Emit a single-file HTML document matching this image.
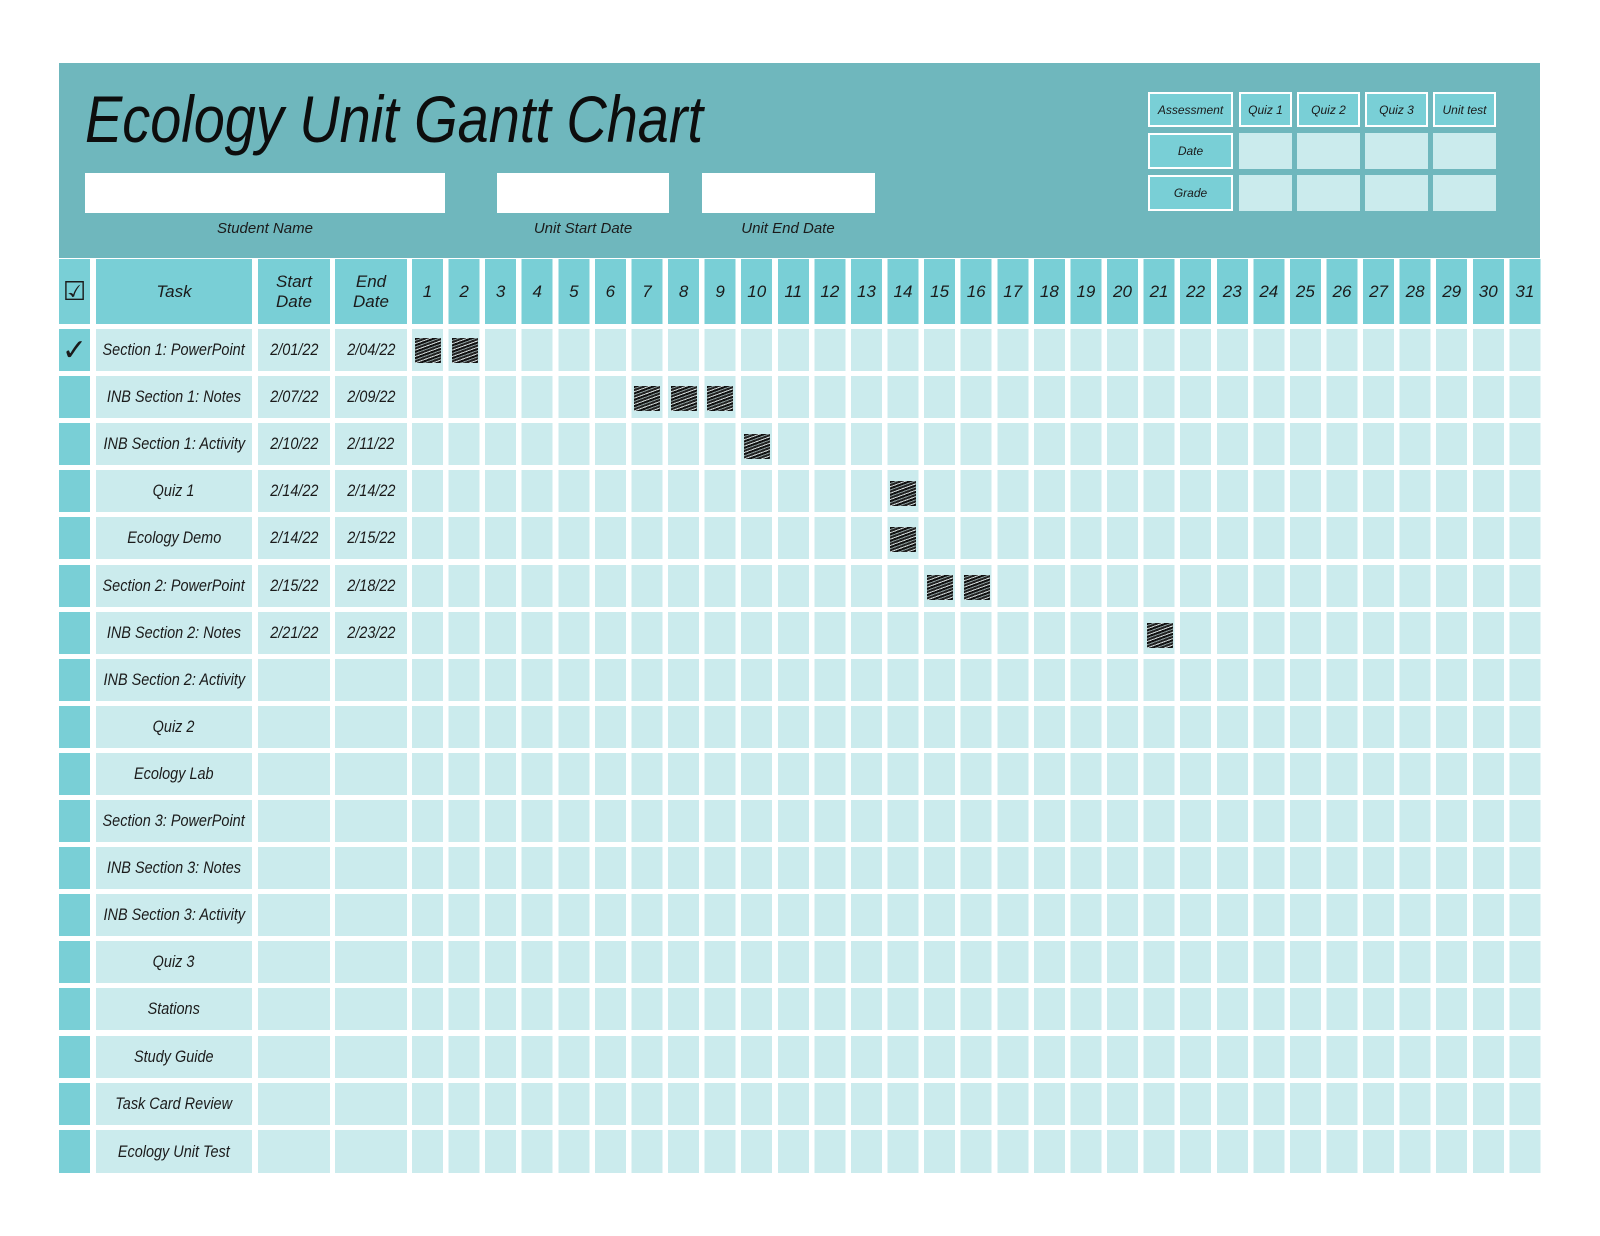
<!DOCTYPE html>
<html><head><meta charset="utf-8"><style>
*{margin:0;padding:0;box-sizing:border-box}
body{width:1600px;height:1236px;background:#fff;position:relative;overflow:hidden;font-family:"Liberation Sans",sans-serif;color:#1b1b1b}
.a{position:absolute}
.ban{left:59px;top:63px;width:1481px;height:195px;background:#6fb7bd}
.wb{background:#fff;height:40px;top:173px}
.lbl{top:220px;font-size:15px;text-align:center;font-style:italic}
.hd{background:#79cfd6}
.lt{background:#cbebed}
.c{display:flex;align-items:center;justify-content:center;text-align:center}
.days{left:412px;width:1134px;display:flex}
.days div{width:36.58px;padding-right:5.58px;display:flex;align-items:center;justify-content:center;font-size:17px;font-style:italic}
.hg{background:repeating-linear-gradient(to right,#79cfd6 0 31px,#fff 31px 36.58px)}
.bg{background:repeating-linear-gradient(to right,#cbebed 0 31px,#fff 31px 36.58px)}
.t{font-size:17px;font-style:italic;white-space:nowrap}
.t span{display:inline-block;transform:scaleX(.85);white-space:nowrap}
.h{width:26px;height:25px;background:repeating-linear-gradient(160deg,#111 0 2px,#8a9a9b 2px 3px,#222 3px 5px,#cfd8d8 5px 6px);}
.at{border:2px solid #fff;background:#79cfd6;font-size:12px;font-style:italic}
.al{background:#cbebed}
</style></head><body>
<div class="a ban"></div>
<svg class="a" style="left:0;top:0" width="900" height="180"><text x="85" y="142" textLength="618" lengthAdjust="spacingAndGlyphs" font-family="Liberation Sans" font-style="italic" font-size="66" fill="#0d0d0d">Ecology Unit Gantt Chart</text></svg>
<div class="a wb" style="left:85px;width:360px"></div>
<div class="a wb" style="left:497px;width:172px"></div>
<div class="a wb" style="left:702px;width:173px"></div>
<div class="a lbl" style="left:165px;width:200px">Student Name</div>
<div class="a lbl" style="left:483px;width:200px">Unit Start Date</div>
<div class="a lbl" style="left:688px;width:200px">Unit End Date</div>

<div class="a c at" style="left:1148px;top:92px;width:85px;height:35px">Assessment</div>
<div class="a c at" style="left:1239px;top:92px;width:53px;height:35px">Quiz 1</div>
<div class="a c at" style="left:1297px;top:92px;width:63px;height:35px">Quiz 2</div>
<div class="a c at" style="left:1365px;top:92px;width:63px;height:35px">Quiz 3</div>
<div class="a c at" style="left:1433px;top:92px;width:63px;height:35px">Unit test</div>
<div class="a c at" style="left:1148px;top:133px;width:85px;height:36px">Date</div>
<div class="a al" style="left:1239px;top:133px;width:53px;height:36px"></div>
<div class="a al" style="left:1297px;top:133px;width:63px;height:36px"></div>
<div class="a al" style="left:1365px;top:133px;width:63px;height:36px"></div>
<div class="a al" style="left:1433px;top:133px;width:63px;height:36px"></div>
<div class="a c at" style="left:1148px;top:175px;width:85px;height:36px">Grade</div>
<div class="a al" style="left:1239px;top:175px;width:53px;height:36px"></div>
<div class="a al" style="left:1297px;top:175px;width:63px;height:36px"></div>
<div class="a al" style="left:1365px;top:175px;width:63px;height:36px"></div>
<div class="a al" style="left:1433px;top:175px;width:63px;height:36px"></div>

<!-- header row -->
<div class="a hd c" style="left:59px;top:259px;width:31px;height:65px;font-size:26px">☑</div>
<div class="a hd c t" style="left:96px;top:259px;width:156px;height:65px">Task</div>
<div class="a hd c t" style="left:258px;top:259px;width:72px;height:65px;white-space:normal">Start<br>Date</div>
<div class="a hd c t" style="left:335px;top:259px;width:72px;height:65px;white-space:normal">End<br>Date</div>
<div class="a days hg" style="top:259px;height:65px"><div>1</div><div>2</div><div>3</div><div>4</div><div>5</div><div>6</div><div>7</div><div>8</div><div>9</div><div>10</div><div>11</div><div>12</div><div>13</div><div>14</div><div>15</div><div>16</div><div>17</div><div>18</div><div>19</div><div>20</div><div>21</div><div>22</div><div>23</div><div>24</div><div>25</div><div>26</div><div>27</div><div>28</div><div>29</div><div>30</div><div>31</div></div>

<!-- rows -->
<div class="a hd c" style="left:59px;top:329px;width:31px;height:42px;font-size:30px">✓</div><div class="a lt c t" style="left:96px;top:329px;width:156px;height:42px"><span>Section 1: PowerPoint</span></div><div class="a lt c t" style="left:258px;top:329px;width:72px;height:42px"><span>2/01/22</span></div><div class="a lt c t" style="left:335px;top:329px;width:72px;height:42px"><span>2/04/22</span></div><div class="a days bg" style="top:329px;height:42px"></div>
<div class="a hd" style="left:59px;top:376px;width:31px;height:42px"></div><div class="a lt c t" style="left:96px;top:376px;width:156px;height:42px"><span>INB Section 1: Notes</span></div><div class="a lt c t" style="left:258px;top:376px;width:72px;height:42px"><span>2/07/22</span></div><div class="a lt c t" style="left:335px;top:376px;width:72px;height:42px"><span>2/09/22</span></div><div class="a days bg" style="top:376px;height:42px"></div>
<div class="a hd" style="left:59px;top:423px;width:31px;height:42px"></div><div class="a lt c t" style="left:96px;top:423px;width:156px;height:42px"><span>INB Section 1: Activity</span></div><div class="a lt c t" style="left:258px;top:423px;width:72px;height:42px"><span>2/10/22</span></div><div class="a lt c t" style="left:335px;top:423px;width:72px;height:42px"><span>2/11/22</span></div><div class="a days bg" style="top:423px;height:42px"></div>
<div class="a hd" style="left:59px;top:470px;width:31px;height:42px"></div><div class="a lt c t" style="left:96px;top:470px;width:156px;height:42px"><span>Quiz 1</span></div><div class="a lt c t" style="left:258px;top:470px;width:72px;height:42px"><span>2/14/22</span></div><div class="a lt c t" style="left:335px;top:470px;width:72px;height:42px"><span>2/14/22</span></div><div class="a days bg" style="top:470px;height:42px"></div>
<div class="a hd" style="left:59px;top:517px;width:31px;height:42px"></div><div class="a lt c t" style="left:96px;top:517px;width:156px;height:42px"><span>Ecology Demo</span></div><div class="a lt c t" style="left:258px;top:517px;width:72px;height:42px"><span>2/14/22</span></div><div class="a lt c t" style="left:335px;top:517px;width:72px;height:42px"><span>2/15/22</span></div><div class="a days bg" style="top:517px;height:42px"></div>
<div class="a hd" style="left:59px;top:565px;width:31px;height:42px"></div><div class="a lt c t" style="left:96px;top:565px;width:156px;height:42px"><span>Section 2: PowerPoint</span></div><div class="a lt c t" style="left:258px;top:565px;width:72px;height:42px"><span>2/15/22</span></div><div class="a lt c t" style="left:335px;top:565px;width:72px;height:42px"><span>2/18/22</span></div><div class="a days bg" style="top:565px;height:42px"></div>
<div class="a hd" style="left:59px;top:612px;width:31px;height:42px"></div><div class="a lt c t" style="left:96px;top:612px;width:156px;height:42px"><span>INB Section 2: Notes</span></div><div class="a lt c t" style="left:258px;top:612px;width:72px;height:42px"><span>2/21/22</span></div><div class="a lt c t" style="left:335px;top:612px;width:72px;height:42px"><span>2/23/22</span></div><div class="a days bg" style="top:612px;height:42px"></div>
<div class="a hd" style="left:59px;top:659px;width:31px;height:42px"></div><div class="a lt c t" style="left:96px;top:659px;width:156px;height:42px"><span>INB Section 2: Activity</span></div><div class="a lt" style="left:258px;top:659px;width:72px;height:42px"></div><div class="a lt" style="left:335px;top:659px;width:72px;height:42px"></div><div class="a days bg" style="top:659px;height:42px"></div>
<div class="a hd" style="left:59px;top:706px;width:31px;height:42px"></div><div class="a lt c t" style="left:96px;top:706px;width:156px;height:42px"><span>Quiz 2</span></div><div class="a lt" style="left:258px;top:706px;width:72px;height:42px"></div><div class="a lt" style="left:335px;top:706px;width:72px;height:42px"></div><div class="a days bg" style="top:706px;height:42px"></div>
<div class="a hd" style="left:59px;top:753px;width:31px;height:42px"></div><div class="a lt c t" style="left:96px;top:753px;width:156px;height:42px"><span>Ecology Lab</span></div><div class="a lt" style="left:258px;top:753px;width:72px;height:42px"></div><div class="a lt" style="left:335px;top:753px;width:72px;height:42px"></div><div class="a days bg" style="top:753px;height:42px"></div>
<div class="a hd" style="left:59px;top:800px;width:31px;height:42px"></div><div class="a lt c t" style="left:96px;top:800px;width:156px;height:42px"><span>Section 3: PowerPoint</span></div><div class="a lt" style="left:258px;top:800px;width:72px;height:42px"></div><div class="a lt" style="left:335px;top:800px;width:72px;height:42px"></div><div class="a days bg" style="top:800px;height:42px"></div>
<div class="a hd" style="left:59px;top:847px;width:31px;height:42px"></div><div class="a lt c t" style="left:96px;top:847px;width:156px;height:42px"><span>INB Section 3: Notes</span></div><div class="a lt" style="left:258px;top:847px;width:72px;height:42px"></div><div class="a lt" style="left:335px;top:847px;width:72px;height:42px"></div><div class="a days bg" style="top:847px;height:42px"></div>
<div class="a hd" style="left:59px;top:894px;width:31px;height:42px"></div><div class="a lt c t" style="left:96px;top:894px;width:156px;height:42px"><span>INB Section 3: Activity</span></div><div class="a lt" style="left:258px;top:894px;width:72px;height:42px"></div><div class="a lt" style="left:335px;top:894px;width:72px;height:42px"></div><div class="a days bg" style="top:894px;height:42px"></div>
<div class="a hd" style="left:59px;top:941px;width:31px;height:42px"></div><div class="a lt c t" style="left:96px;top:941px;width:156px;height:42px"><span>Quiz 3</span></div><div class="a lt" style="left:258px;top:941px;width:72px;height:42px"></div><div class="a lt" style="left:335px;top:941px;width:72px;height:42px"></div><div class="a days bg" style="top:941px;height:42px"></div>
<div class="a hd" style="left:59px;top:988px;width:31px;height:42px"></div><div class="a lt c t" style="left:96px;top:988px;width:156px;height:42px"><span>Stations</span></div><div class="a lt" style="left:258px;top:988px;width:72px;height:42px"></div><div class="a lt" style="left:335px;top:988px;width:72px;height:42px"></div><div class="a days bg" style="top:988px;height:42px"></div>
<div class="a hd" style="left:59px;top:1036px;width:31px;height:42px"></div><div class="a lt c t" style="left:96px;top:1036px;width:156px;height:42px"><span>Study Guide</span></div><div class="a lt" style="left:258px;top:1036px;width:72px;height:42px"></div><div class="a lt" style="left:335px;top:1036px;width:72px;height:42px"></div><div class="a days bg" style="top:1036px;height:42px"></div>
<div class="a hd" style="left:59px;top:1083px;width:31px;height:42px"></div><div class="a lt c t" style="left:96px;top:1083px;width:156px;height:42px"><span>Task Card Review</span></div><div class="a lt" style="left:258px;top:1083px;width:72px;height:42px"></div><div class="a lt" style="left:335px;top:1083px;width:72px;height:42px"></div><div class="a days bg" style="top:1083px;height:42px"></div>
<div class="a hd" style="left:59px;top:1130px;width:31px;height:43px"></div><div class="a lt c t" style="left:96px;top:1130px;width:156px;height:43px"><span>Ecology Unit Test</span></div><div class="a lt" style="left:258px;top:1130px;width:72px;height:43px"></div><div class="a lt" style="left:335px;top:1130px;width:72px;height:43px"></div><div class="a days bg" style="top:1130px;height:43px"></div>

<!-- hatch marks -->
<div class="a h" style="left:415px;top:338px"></div>
<div class="a h" style="left:452px;top:338px"></div>
<div class="a h" style="left:634px;top:386px"></div>
<div class="a h" style="left:671px;top:386px"></div>
<div class="a h" style="left:707px;top:386px"></div>
<div class="a h" style="left:744px;top:434px"></div>
<div class="a h" style="left:890px;top:481px"></div>
<div class="a h" style="left:890px;top:527px"></div>
<div class="a h" style="left:927px;top:575px"></div>
<div class="a h" style="left:964px;top:575px"></div>
<div class="a h" style="left:1147px;top:623px"></div>
</body></html>
